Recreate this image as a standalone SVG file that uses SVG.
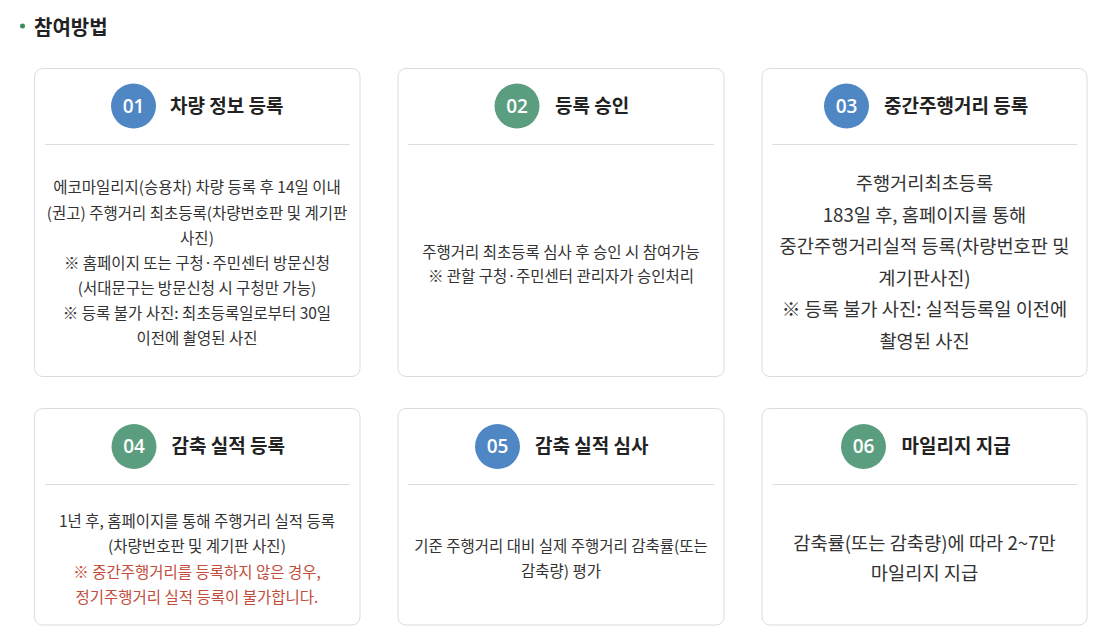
<svg xmlns="http://www.w3.org/2000/svg" width="1118" height="643" viewBox="0 0 1118 643">
<style>
.card{fill:#fff;stroke:#dcdcdc;stroke-width:1}
.sep{stroke:#dddddd;stroke-width:1}
.blue{fill:#4f87c5}
.green{fill:#5b9e7f}
.num{font-family:"Open Sans","Noto Sans",sans-serif;font-size:19px;font-weight:600;fill:#fff;text-anchor:middle}
.title{font-family:"Noto Sans CJK KR","Noto Sans",sans-serif;font-size:19px;font-weight:700;fill:#222}
.body{font-family:"Noto Sans CJK KR","Noto Sans",sans-serif;font-size:15.5px;fill:#333;text-anchor:middle}
.big{font-family:"Noto Sans CJK KR","Noto Sans",sans-serif;font-size:18.7px;fill:#333;text-anchor:middle}
.red{fill:#c24d3c}
.head{font-family:"Noto Sans CJK KR","Noto Sans",sans-serif;font-size:20px;font-weight:700;fill:#222}
</style>
<rect width="1118" height="643" fill="#fff"/>
<circle cx="22.5" cy="26" r="2.5" fill="#3d8a5a"/>
<text class="head" x="34" y="34.5">참여방법</text>

<g id="card1">
<rect class="card" x="34.5" y="68.5" width="325.5" height="308" rx="8"/>
<circle class="blue" cx="133.5" cy="106" r="22.5"/>
<text class="num" x="133.5" y="112.5">01</text>
<text class="title" x="170" y="113">차량 정보 등록</text>
<line class="sep" x1="45" y1="144.5" x2="350" y2="144.5"/>
<text class="body" x="197" y="193">에코마일리지(승용차) 차량 등록 후 14일 이내</text>
<text class="body" x="197" y="218.5">(권고) 주행거리 최초등록(차량번호판 및 계기판</text>
<text class="body" x="197" y="243.5">사진)</text>
<text class="body" x="197" y="268.5">※ 홈페이지 또는 구청·주민센터 방문신청</text>
<text class="body" x="197" y="293.5">(서대문구는 방문신청 시 구청만 가능)</text>
<text class="body" x="197" y="318.5">※ 등록 불가 사진: 최초등록일로부터 30일</text>
<text class="body" x="197" y="343.5">이전에 촬영된 사진</text>
</g>

<g id="card2">
<rect class="card" x="398" y="68.5" width="326" height="308" rx="8"/>
<circle class="green" cx="517" cy="106" r="22.5"/>
<text class="num" x="517" y="112.5">02</text>
<text class="title" x="555" y="113">등록 승인</text>
<line class="sep" x1="408" y1="144.5" x2="714" y2="144.5"/>
<text class="body" x="561" y="257.5">주행거리 최초등록 심사 후 승인 시 참여가능</text>
<text class="body" x="561" y="281.5">※ 관할 구청·주민센터 관리자가 승인처리</text>
</g>

<g id="card3">
<rect class="card" x="762" y="68.5" width="325" height="308" rx="8"/>
<circle class="blue" cx="846.5" cy="106" r="22.5"/>
<text class="num" x="846.5" y="112.5">03</text>
<text class="title" x="884" y="113">중간주행거리 등록</text>
<line class="sep" x1="772" y1="144.5" x2="1077" y2="144.5"/>
<text class="big" x="924.5" y="190">주행거리최초등록</text>
<text class="big" x="924.5" y="221.5">183일 후, 홈페이지를 통해</text>
<text class="big" x="924.5" y="253">중간주행거리실적 등록(차량번호판 및</text>
<text class="big" x="924.5" y="284.5">계기판사진)</text>
<text class="big" x="924.5" y="316">※ 등록 불가 사진: 실적등록일 이전에</text>
<text class="big" x="924.5" y="347.5">촬영된 사진</text>
</g>

<g id="card4">
<rect class="card" x="34.5" y="408.5" width="325.5" height="216.5" rx="8"/>
<circle class="green" cx="134" cy="446.5" r="22.5"/>
<text class="num" x="134" y="453">04</text>
<text class="title" x="171.5" y="453">감축 실적 등록</text>
<line class="sep" x1="45" y1="484.5" x2="350" y2="484.5"/>
<text class="body" x="197" y="526.5">1년 후, 홈페이지를 통해 주행거리 실적 등록</text>
<text class="body" x="197" y="552">(차량번호판 및 계기판 사진)</text>
<text class="body red" x="197" y="577.5">※ 중간주행거리를 등록하지 않은 경우,</text>
<text class="body red" x="197" y="603">정기주행거리 실적 등록이 불가합니다.</text>
</g>

<g id="card5">
<rect class="card" x="398" y="408.5" width="326" height="216.5" rx="8"/>
<circle class="blue" cx="497.5" cy="446.5" r="22.5"/>
<text class="num" x="497.5" y="453">05</text>
<text class="title" x="535" y="453">감축 실적 심사</text>
<line class="sep" x1="408" y1="484.5" x2="714" y2="484.5"/>
<text class="body" x="561" y="551.5">기준 주행거리 대비 실제 주행거리 감축률(또는</text>
<text class="body" x="561" y="576.5">감축량) 평가</text>
</g>

<g id="card6">
<rect class="card" x="762" y="408.5" width="325" height="216.5" rx="8"/>
<circle class="green" cx="863.5" cy="446.5" r="22.5"/>
<text class="num" x="863.5" y="453">06</text>
<text class="title" x="901.5" y="453">마일리지 지급</text>
<line class="sep" x1="772" y1="484.5" x2="1077" y2="484.5"/>
<text class="big" x="924.5" y="549.5">감축률(또는 감축량)에 따라 2~7만</text>
<text class="big" x="924.5" y="580">마일리지 지급</text>
</g>

<g id="connectors"></g>
</svg>
